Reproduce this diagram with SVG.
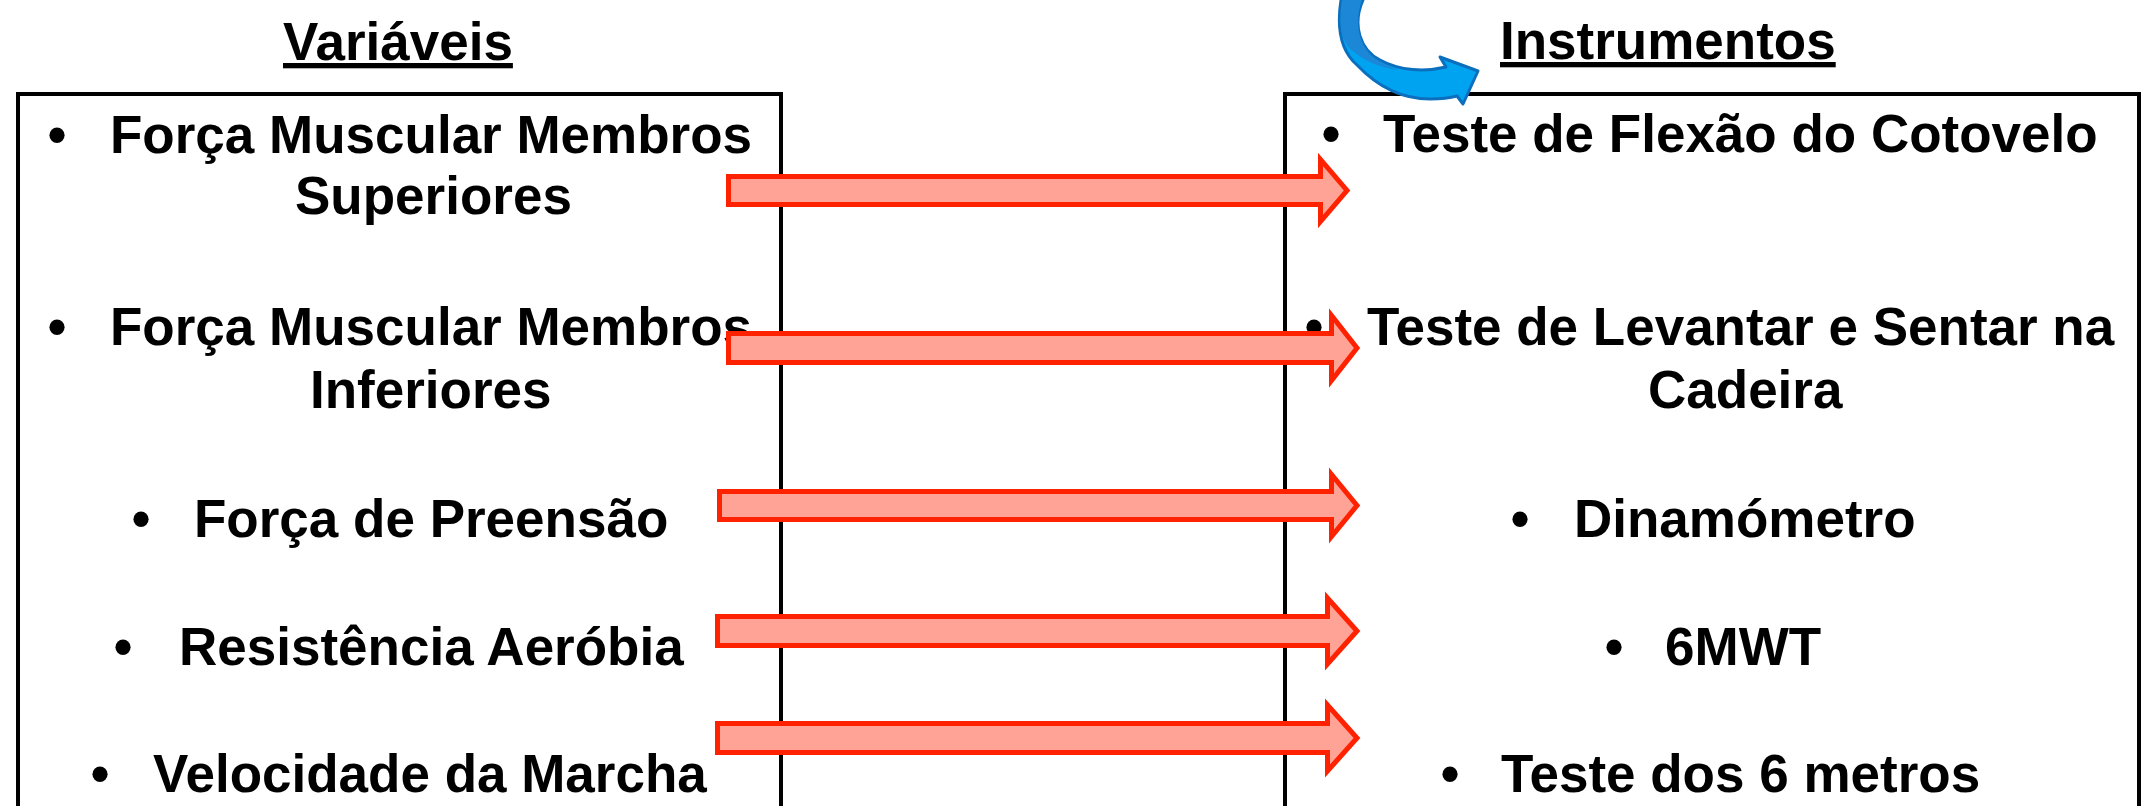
<svg xmlns="http://www.w3.org/2000/svg" width="2143" height="806" viewBox="0 0 2143 806">
<style>
  .t { font-family: "Liberation Sans", Arial, sans-serif; font-weight: bold; font-size: 53px; fill: #000; }
  .b { text-anchor: middle; }
  .title { text-decoration: underline; }
  .box { fill: none; stroke: #000; stroke-width: 4; }
  .arr { fill: #FFA396; stroke: #FF2200; stroke-width: 5; stroke-linejoin: miter; }
</style>
<rect width="2143" height="806" fill="#fff"/>

<g id="variaveis">
  <rect class="box" x="18" y="94" width="763" height="780"/>
  <text class="t title" x="283" y="60">Variáveis</text>
  <text class="t b" x="57" y="153">•</text>
  <text class="t" x="110" y="153">Força Muscular Membros</text>
  <text class="t" x="295" y="214">Superiores</text>
  <text class="t b" x="57" y="345">•</text>
  <text class="t" x="110" y="345">Força Muscular Membros</text>
  <text class="t" x="310" y="408">Inferiores</text>
  <text class="t b" x="141" y="537">•</text>
  <text class="t" x="194" y="537">Força de Preensão</text>
  <text class="t b" x="123" y="665">•</text>
  <text class="t" x="179" y="665">Resistência Aeróbia</text>
  <text class="t b" x="100" y="792">•</text>
  <text class="t" x="153" y="792">Velocidade da Marcha</text>
</g>

<g id="instrumentos">
  <rect class="box" x="1285" y="94" width="854" height="780"/>
  <text class="t title" x="1500" y="59">Instrumentos</text>
  <text class="t b" x="1331" y="152">•</text>
  <text class="t" x="1383" y="152">Teste de Flexão do Cotovelo</text>
  <text class="t b" x="1314" y="345">•</text>
  <text class="t" x="1367" y="345">Teste de Levantar e Sentar na</text>
  <text class="t" x="1648" y="408">Cadeira</text>
  <text class="t b" x="1520" y="537">•</text>
  <text class="t" x="1574" y="537">Dinamómetro</text>
  <text class="t b" x="1614" y="665">•</text>
  <text class="t" x="1665" y="665">6MWT</text>
  <text class="t b" x="1450" y="792">•</text>
  <text class="t" x="1501" y="792">Teste dos 6 metros</text>
</g>

<g id="connectors">
  <path class="arr" d="M728.5,176.5 H1320.5 V159.5 L1347,190.5 L1320.5,221.5 V204.5 H728.5 Z"/>
  <path class="arr" d="M728.5,333.5 H1331.5 V315.5 L1357,348 L1331.5,380.5 V362.5 H728.5 Z"/>
  <path class="arr" d="M719.5,491.5 H1331.5 V474.5 L1357,505.5 L1331.5,536.5 V519.5 H719.5 Z"/>
  <path class="arr" d="M717.5,616.5 H1327.5 V598 L1357,631 L1327.5,664 V645.5 H717.5 Z"/>
  <path class="arr" d="M717.5,723.5 H1327.5 V705 L1357,738 L1327.5,771 V752.5 H717.5 Z"/>
</g>

<g id="curved-arrow">
  <path d="M1341,0 C1337,25 1340,50 1357,65 C1375,84 1400,99 1430,99 C1440,99 1450,98 1457,96 L1463,104 L1478,71 L1440,57 L1446,67 C1425,72 1400,71 1380,60 C1360,50 1352,25 1363,0 Z" fill="#00A3F0" stroke="#0B6FBE" stroke-width="3" stroke-linejoin="round"/>
  <path d="M1342,0 C1338,25 1341,42 1354,52 C1366,62 1382,68 1398,70 C1390,67 1382,63 1379,61 C1360,50 1353,25 1362,0 Z" fill="#1B87D6"/>
</g>
</svg>
